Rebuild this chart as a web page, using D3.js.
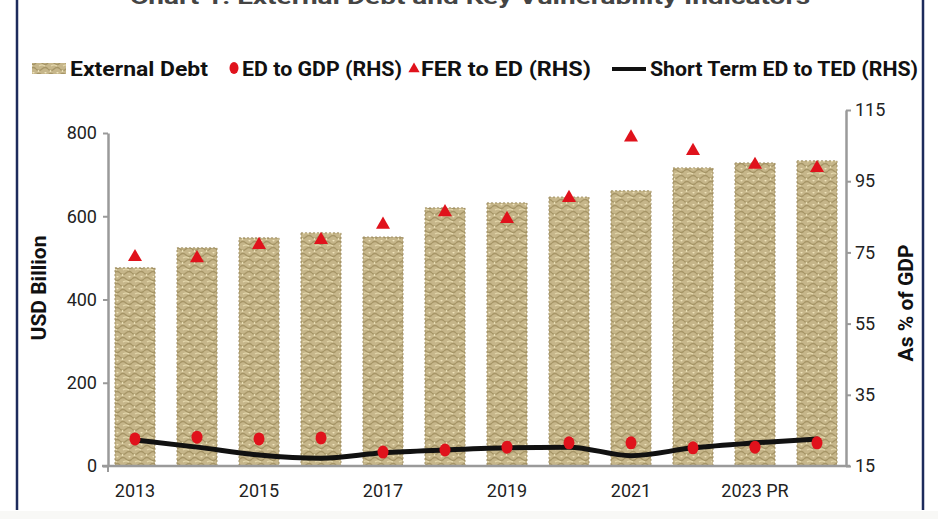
<!DOCTYPE html>
<html>
<head>
<meta charset="utf-8">
<script src="https://cdn.jsdelivr.net/npm/d3@7/dist/d3.min.js"></script>
<style>
  html, body { margin: 0; padding: 0; background: #ffffff; }
  svg { display: block; font-family: Roboto, "Noto Sans", sans-serif; }
</style>
</head>
<body>
<svg id="chart" width="938" height="519"></svg>
<script>
// India's external debt and vulnerability indicators, end-March
const years = [2013, 2014, 2015, 2016, 2017, 2018, 2019, 2020, 2021, 2022, 2023, 2024];
const xTickLabels = { 2013: "2013", 2015: "2015", 2017: "2017", 2019: "2019", 2021: "2021", 2023: "2023 PR" };
const externalDebt = [476, 524, 548, 560, 550, 620, 632, 646, 661, 716, 728, 733];          // USD billion
const edToGdp      = [22.6, 23.1, 22.6, 22.9, 18.9, 19.5, 20.3, 21.5, 21.5, 20.1, 20.3, 21.5]; // per cent
const ferToEd      = [73.7, 73.4, 77.1, 78.5, 82.8, 86.3, 84.4, 90.3, 107.3, 103.5, 99.6, 98.7];
const shortTermToTed = [22.3, 20.3, 18.1, 17.2, 18.7, 19.5, 20.1, 20.3, 17.9, 20.1, 21.5, 22.6];
const leftTicks  = [0, 200, 400, 600, 800];
const rightTicks = [15, 35, 55, 75, 95, 115];

const svg = d3.select("#chart");
const RED = "#e0121c";
const AXIS = "#9a9a9a";

// textured fill for the debt bars
const defs = svg.append("defs");
const pat = defs.append("pattern")
  .attr("id", "burlap").attr("patternUnits", "userSpaceOnUse")
  .attr("width", 12).attr("height", 12);
pat.append("rect").attr("width", 12).attr("height", 12).attr("fill", "#c6b68a");
pat.append("path").attr("d", "M0,3 Q3,0 6,3 T12,3").attr("fill", "none")
  .attr("stroke", "#a69566").attr("stroke-width", 1.3);
pat.append("path").attr("d", "M0,9 Q3,12 6,9 T12,9").attr("fill", "none")
  .attr("stroke", "#a69566").attr("stroke-width", 1.3);
pat.append("path").attr("d", "M3,6 Q6,4 9,6").attr("fill", "none")
  .attr("stroke", "#e6daae").attr("stroke-width", 1.2);
pat.append("circle").attr("cx", 9.5).attr("cy", 0.5).attr("r", 1).attr("fill", "#efe4bb");
pat.append("circle").attr("cx", 2.5).attr("cy", 11).attr("r", 0.9).attr("fill", "#efe4bb");

// frame
svg.append("line").attr("x1", 17).attr("x2", 17).attr("y1", 0).attr("y2", 510)
  .attr("stroke", "#1d2b5c").attr("stroke-width", 2.5);
svg.append("line").attr("x1", 923).attr("x2", 923).attr("y1", 0).attr("y2", 510)
  .attr("stroke", "#1d2b5c").attr("stroke-width", 2.5);
svg.append("rect").attr("x", 0).attr("y", 511).attr("width", 938).attr("height", 8).attr("fill", "#f8f8f6");

// title (runs off the top edge)
svg.append("text").attr("x", 470).attr("y", 4).attr("text-anchor", "middle")
  .attr("font-size", 21).attr("font-weight", 700).attr("fill", "#444")
  .attr("textLength", 680).attr("lengthAdjust", "spacingAndGlyphs")
  .text("Chart 1: External Debt and Key Vulnerability Indicators");

// scales
const x = d3.scaleBand().domain(years).range([104, 848]).paddingInner(0.355).paddingOuter(0.1775);
const yL = d3.scaleLinear().domain([0, 800]).range([466, 133]);
const yR = d3.scaleLinear().domain([15, 115]).range([466, 110]);

// bars
svg.append("g").selectAll("rect").data(years).join("rect")
  .attr("x", d => x(d))
  .attr("y", (d, i) => yL(externalDebt[i]))
  .attr("width", x.bandwidth())
  .attr("height", (d, i) => yL(0) - yL(externalDebt[i]))
  .attr("fill", "url(#burlap)")
  .attr("stroke", "#9e8d60").attr("stroke-width", 1).attr("stroke-dasharray", "2,2");

// axes
const fontAxis = g => g.selectAll("text").attr("font-size", 18).attr("fill", "#222")
  .attr("font-family", "Roboto, sans-serif");
const styleAxis = g => {
  g.select(".domain").attr("stroke", AXIS).attr("stroke-width", 2.5);
  g.selectAll(".tick line").attr("stroke", AXIS).attr("stroke-width", 2);
  fontAxis(g);
};

svg.append("g").attr("transform", "translate(108,0)")
  .call(d3.axisLeft(yL).tickValues(leftTicks).tickSize(5).tickPadding(6).tickSizeOuter(0))
  .call(styleAxis);

svg.append("g").attr("transform", "translate(846,0)")
  .call(d3.axisRight(yR).tickValues(rightTicks).tickSize(5).tickPadding(4).tickSizeOuter(0))
  .call(styleAxis);

const xAxis = svg.append("g").attr("transform", "translate(0,466)")
  .call(d3.axisBottom(x).tickSize(0).tickPadding(18).tickSizeOuter(0)
    .tickFormat(d => xTickLabels[d] || ""));
xAxis.select(".domain").attr("d", "M102,0H850").attr("stroke", AXIS).attr("stroke-width", 2.5);
fontAxis(xAxis);
xAxis.append("line").attr("x1", 108).attr("x2", 108).attr("y1", 0).attr("y2", 6)
  .attr("stroke", AXIS).attr("stroke-width", 2);

// short-term debt share line
const cx = d => x(d) + x.bandwidth() / 2;
svg.append("path").datum(years)
  .attr("d", d3.line().x(cx).y((d, i) => yR(shortTermToTed[i])).curve(d3.curveMonotoneX))
  .attr("fill", "none").attr("stroke", "#111").attr("stroke-width", 5).attr("stroke-linecap", "round");

// ED to GDP dots
svg.append("g").selectAll("ellipse").data(years).join("ellipse")
  .attr("cx", cx).attr("cy", (d, i) => yR(edToGdp[i]))
  .attr("rx", 5.5).attr("ry", 6.5).attr("fill", RED);

// FER to ED triangles
const tri = d3.symbol().type(d3.symbolTriangle).size(85);
svg.append("g").selectAll("path").data(years).join("path")
  .attr("transform", (d, i) => `translate(${cx(d)},${yR(ferToEd[i])})`)
  .attr("d", tri).attr("fill", RED);

// axis titles
svg.append("text").attr("transform", "translate(46,288) rotate(-90)")
  .attr("text-anchor", "middle").attr("font-size", 21).attr("font-weight", 700)
  .attr("fill", "#111").text("USD Billion");
svg.append("text").attr("transform", "translate(913,303) rotate(-90)")
  .attr("text-anchor", "middle").attr("font-size", 21).attr("font-weight", 700)
  .attr("fill", "#111").text("As % of GDP");

// legend
const lg = svg.append("g").attr("font-size", 20).attr("font-weight", 700).attr("fill", "#111");
lg.append("rect").attr("x", 32).attr("y", 63).attr("width", 34).attr("height", 11).attr("fill", "url(#burlap)");
lg.append("text").attr("x", 70).attr("y", 76).attr("textLength", 138).attr("lengthAdjust", "spacingAndGlyphs")
  .text("External Debt");
lg.append("ellipse").attr("cx", 234).attr("cy", 68).attr("rx", 4.5).attr("ry", 6).attr("fill", RED);
lg.append("text").attr("x", 242).attr("y", 76).attr("textLength", 160).attr("lengthAdjust", "spacingAndGlyphs")
  .text("ED to GDP (RHS)");
lg.append("path").attr("transform", "translate(414,69)").attr("d", d3.symbol().type(d3.symbolTriangle).size(55))
  .attr("fill", RED);
lg.append("text").attr("x", 421).attr("y", 76).attr("textLength", 170).attr("lengthAdjust", "spacingAndGlyphs")
  .text("FER to ED (RHS)");
lg.append("line").attr("x1", 612).attr("x2", 646).attr("y1", 69).attr("y2", 69)
  .attr("stroke", "#111").attr("stroke-width", 4);
lg.append("text").attr("x", 650).attr("y", 76).attr("textLength", 268).attr("lengthAdjust", "spacingAndGlyphs")
  .text("Short Term ED to TED (RHS)");
</script>
</body>
</html>
